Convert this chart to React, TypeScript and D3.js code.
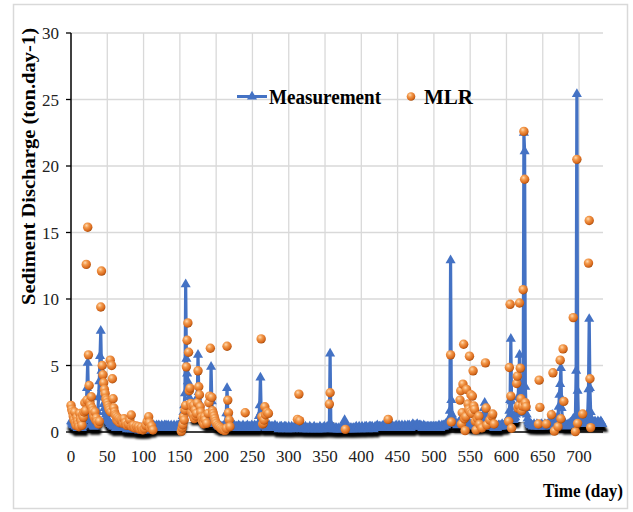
import React from "react";
import * as d3 from "d3";

// Daily measured sediment discharge (ton/day), days 0..732
const m000 = [
  0.8, 0.7, 0.6, 0.5, 0.6, 0.5, 0.4, 0.5, 0.4, 0.3,
  0.4, 0.3, 0.4, 0.5, 0.4, 0.3, 0.4, 0.5, 0.6, 0.9,
  1.3, 1.9, 3.3, 5.2, 2.7, 1.6, 1.1, 0.9, 0.7, 0.6,
  0.5, 0.4, 0.5, 0.4, 0.5, 0.6, 0.9, 1.5, 2.6, 3.8,
  5.7, 7.6, 4.6, 3.3, 2.6, 2.1, 1.8, 1.5, 1.3, 1.1,
];
const m050 = [
  1.0, 0.9, 0.8, 0.7, 0.6, 0.6, 0.5, 0.5, 0.4, 0.5,
  0.4, 0.5, 0.3, 0.4, 0.5, 0.4, 0.3, 0.4, 0.5, 0.3,
  0.4, 0.3, 0.4, 0.5, 0.3, 0.4, 0.3, 0.2, 0.4, 0.3,
  0.3, 0.2, 0.4, 0.3, 0.2, 0.3, 0.4, 0.2, 0.3, 0.2,
  0.3, 0.2, 0.3, 0.2, 0.1, 0.3, 0.2, 0.3, 0.1, 0.2,
];
const m100 = [
  0.2, 0.3, 0.1, 0.2, 0.3, 0.2, 0.3, 0.2, 0.4, 0.3,
  0.2, 0.3, 0.4, 0.3, 0.5, 0.4, 0.3, 0.4, 0.5, 0.4,
  0.3, 0.5, 0.4, 0.3, 0.4, 0.5, 0.4, 0.3, 0.4, 0.5,
  0.4, 0.5, 0.3, 0.4, 0.5, 0.4, 0.3, 0.4, 0.5, 0.4,
  0.3, 0.4, 0.5, 0.4, 0.3, 0.4, 0.5, 0.4, 0.5, 0.4,
];
const m150 = [
  0.5, 0.6, 0.7, 0.9, 1.2, 1.5, 2.0, 2.9, 11.1, 5.5,
  4.4, 3.8, 3.2, 2.6, 2.2, 1.9, 1.7, 1.5, 1.4, 1.3,
  1.2, 1.1, 1.2, 1.6, 2.6, 5.8, 3.0, 2.2, 1.7, 1.4,
  1.2, 1.1, 1.0, 0.9, 0.9, 0.8, 0.8, 0.7, 0.7, 0.6,
  0.7, 0.9, 1.6, 4.9, 2.3, 1.5, 1.1, 0.9, 0.8, 0.7,
];
const m200 = [
  0.6, 0.6, 0.5, 0.5, 0.4, 0.5, 0.4, 0.4, 0.3, 0.4,
  0.3, 0.4, 0.5, 0.7, 1.4, 3.3, 1.4, 0.9, 0.6, 0.5,
  0.4, 0.5, 0.4, 0.3, 0.4, 0.5, 0.4, 0.3, 0.4, 0.3,
  0.4, 0.5, 0.4, 0.3, 0.4, 0.3, 0.4, 0.5, 0.4, 0.3,
  0.4, 0.3, 0.4, 0.5, 0.4, 0.3, 0.4, 0.3, 0.4, 0.5,
];
const m250 = [
  0.4, 0.3, 0.4, 0.5, 0.4, 0.3, 0.4, 0.5, 0.6, 1.2,
  2.0, 4.1, 1.5, 0.9, 0.6, 0.5, 0.4, 0.5, 0.4, 0.3,
  0.4, 0.3, 0.4, 0.5, 0.4, 0.3, 0.4, 0.3, 0.4, 0.3,
  0.4, 0.5, 0.4, 0.3, 0.4, 0.3, 0.2, 0.3, 0.4, 0.3,
  0.4, 0.3, 0.2, 0.3, 0.4, 0.3, 0.4, 0.3, 0.2, 0.3,
];
const m300 = [
  0.4, 0.3, 0.2, 0.3, 0.4, 0.3, 0.2, 0.3, 0.4, 0.3,
  0.4, 0.3, 0.5, 0.4, 0.3, 0.4, 0.3, 0.2, 0.3, 0.4,
  0.3, 0.2, 0.3, 0.4, 0.3, 0.2, 0.3, 0.2, 0.3, 0.4,
  0.3, 0.2, 0.3, 0.2, 0.3, 0.4, 0.3, 0.2, 0.3, 0.2,
  0.3, 0.2, 0.3, 0.4, 0.3, 0.2, 0.3, 0.2, 0.3, 0.4,
];
const m350 = [
  0.3, 0.2, 0.3, 0.4, 0.3, 0.3, 0.5, 5.9, 0.6, 0.4,
  0.3, 0.2, 0.3, 0.2, 0.3, 0.2, 0.3, 0.2, 0.2, 0.3,
  0.2, 0.3, 0.2, 0.3, 0.2, 0.4, 0.6, 0.9, 0.5, 0.3,
  0.2, 0.3, 0.2, 0.3, 0.2, 0.3, 0.2, 0.3, 0.2, 0.3,
  0.3, 0.2, 0.3, 0.4, 0.3, 0.2, 0.3, 0.4, 0.3, 0.2,
];
const m400 = [
  0.3, 0.4, 0.3, 0.2, 0.3, 0.4, 0.3, 0.4, 0.3, 0.2,
  0.3, 0.4, 0.3, 0.4, 0.3, 0.4, 0.3, 0.2, 0.3, 0.4,
  0.3, 0.4, 0.5, 0.4, 0.3, 0.4, 0.3, 0.4, 0.3, 0.4,
  0.5, 0.4, 0.3, 0.4, 0.3, 0.4, 0.5, 0.4, 0.3, 0.4,
  0.3, 0.4, 0.5, 0.4, 0.3, 0.4, 0.3, 0.4, 0.5, 0.4,
];
const m450 = [
  0.3, 0.4, 0.5, 0.4, 0.3, 0.4, 0.5, 0.4, 0.3, 0.4,
  0.5, 0.4, 0.3, 0.4, 0.5, 0.4, 0.5, 0.4, 0.3, 0.4,
  0.5, 0.6, 0.5, 0.4, 0.5, 0.4, 0.5, 0.6, 0.5, 0.4,
  0.5, 0.4, 0.5, 0.4, 0.3, 0.4, 0.5, 0.4, 0.3, 0.4,
  0.3, 0.4, 0.3, 0.4, 0.3, 0.4, 0.3, 0.4, 0.3, 0.4,
];
const m500 = [
  0.4, 0.3, 0.4, 0.3, 0.4, 0.3, 0.4, 0.5, 0.4, 0.3,
  0.4, 0.5, 0.4, 0.5, 0.4, 0.5, 0.6, 0.5, 0.6, 0.7,
  0.8, 1.0, 1.6, 12.9, 2.4, 1.3, 1.0, 0.8, 0.7, 0.6,
  0.7, 0.6, 0.5, 0.6, 0.7, 0.6, 0.8, 0.9, 0.7, 0.6,
  0.8, 1.0, 0.8, 0.7, 0.6, 0.7, 0.8, 0.6, 0.7, 0.6,
];
const m550 = [
  0.5, 0.6, 0.5, 0.6, 0.5, 0.4, 0.5, 0.6, 0.5, 0.4,
  0.5, 0.6, 0.5, 0.4, 0.5, 0.6, 0.7, 0.9, 1.3, 1.8,
  2.2, 1.4, 0.9, 0.7, 0.6, 0.5, 0.4, 0.5, 0.4, 0.5,
  0.4, 0.5, 0.4, 0.3, 0.4, 0.5, 0.4, 0.3, 0.4, 0.5,
  0.4, 0.5, 0.4, 0.5, 0.6, 0.5, 0.4, 0.5, 0.6, 0.7,
];
const m600 = [
  0.7, 0.8, 0.9, 1.1, 1.6, 2.4, 7.0, 2.3, 1.3, 1.0,
  0.9, 1.0, 1.1, 1.3, 1.5, 1.9, 2.6, 3.8, 5.8, 2.6,
  1.8, 1.5, 1.4, 2.1, 22.5, 21.1, 3.4, 1.8, 1.3, 1.0,
  0.8, 0.7, 0.6, 0.5, 0.6, 0.5, 0.4, 0.5, 0.6, 0.5,
  0.4, 0.5, 0.6, 0.5, 0.4, 0.5, 0.4, 0.5, 0.6, 0.5,
];
const m650 = [
  0.5, 0.4, 0.5, 0.6, 0.5, 0.4, 0.5, 0.6, 0.5, 0.6,
  0.7, 0.8, 1.0, 1.3, 0.8, 0.6, 0.5, 0.6, 0.5, 0.7,
  0.9, 1.2, 1.9, 2.8, 3.6, 4.8, 1.8, 1.0, 0.8, 0.6,
  0.5, 0.6, 0.5, 0.4, 0.5, 0.6, 0.5, 0.6, 0.7, 0.6,
  0.7, 0.8, 1.0, 0.7, 0.6, 1.2, 4.6, 25.4, 3.1, 1.2,
];
const m700 = [
  0.9, 0.8, 0.7, 0.6, 0.7, 0.8, 0.7, 0.6, 0.7, 0.8,
  0.9, 1.1, 1.4, 3.2, 8.5, 3.3, 1.5, 1.0, 0.8, 0.7,
  0.6, 0.7, 0.8, 0.7, 0.6, 0.7, 0.8, 0.7, 0.6, 0.7,
  0.8, 0.7, 0.6,
];
const measurement = [
  ...m000, ...m050, ...m100, ...m150, ...m200, ...m250, ...m300,
  ...m350, ...m400, ...m450, ...m500, ...m550, ...m600, ...m650, ...m700,
];

// MLR estimates (day, value)
const mlrDays = [
  0, 1, 2, 3, 4, 5, 6, 7, 8, 9, 10, 11, 12, 13, 14, 15, 16, 17, 18, 19,
  20, 21, 22, 23, 24, 25, 26, 27, 28, 29, 30, 31, 32, 33, 34, 35, 36, 38, 39,
  41, 42, 43, 44, 45, 46, 47, 48, 49, 50, 51, 52, 53, 54, 55, 56, 57, 58, 59,
  60, 61, 62, 63, 64, 65, 66, 67, 68, 70, 72, 73, 75, 77, 79, 81, 83, 84, 86,
  88, 90, 92, 93, 95, 97, 99, 101, 103, 105, 107, 108, 109, 111, 113,
  152, 153, 154, 155, 156, 157, 158, 159, 160, 161, 162, 163, 164, 165, 166,
  167, 168, 169, 170, 171, 172, 173, 174, 175, 176, 177, 178, 179, 180, 181,
  182, 183, 184, 185, 187, 189, 190, 191, 192, 194, 195, 196, 197, 198, 199,
  200, 202, 204, 206, 208, 210, 212, 214, 215, 216, 217, 218, 219,
  240, 262, 263, 264, 265, 266, 267, 268, 270, 272,
  312, 314, 315, 356, 357, 378, 437,
  523, 524, 536, 537, 538, 539, 540, 541, 542, 543, 544, 545, 547, 548, 549,
  550, 551, 552, 553, 554, 555, 556, 557, 558, 560, 562, 563, 566, 571, 572,
  573, 577, 580, 581, 583,
  603, 604, 605, 606, 607, 614, 615, 616, 617, 618, 619, 620, 621, 622, 623,
  624, 625, 626, 627, 644, 645, 646, 655, 662, 664, 666, 671, 674, 675, 678,
  679, 692, 695, 697, 698, 705, 713, 714, 715, 716,
];
const mlrValues = [
  2.0, 1.7, 1.5, 1.2, 0.9, 1.5, 0.7, 0.5, 1.1, 0.8, 0.6, 0.4, 1.4, 1.0, 0.8, 0.5, 1.3, 1.1, 1.5, 2.2,
  1.6, 12.6, 2.4, 15.4, 5.8, 3.5, 2.3, 2.0, 2.65, 1.8, 1.6, 1.3, 1.1, 1.5, 0.9, 1.05, 0.8, 0.6, 0.8,
  9.4, 12.1, 5.0, 4.3, 3.7, 3.2, 2.9, 2.5, 2.4, 2.2, 2.0, 1.8, 1.65, 5.4, 1.5, 5.0, 4.0, 2.5, 1.8,
  1.5, 1.3, 1.2, 0.9, 1.1, 0.8, 1.0, 0.7, 0.9, 0.9, 0.65, 1.0, 0.7, 0.5, 0.6, 0.9, 1.28, 0.4, 0.5,
  0.3, 0.45, 0.3, 0.4, 0.2, 0.35, 0.15, 0.25, 0.5, 0.8, 1.15, 0.7, 0.3, 0.45, 0.15,
  0.05, 0.3, 0.55, 1.15, 0.9, 1.65, 2.0, 4.9, 6.9, 8.2, 6.0, 3.1, 3.3, 2.15, 1.5,
  1.9, 1.3, 2.0, 1.0, 1.65, 1.2, 1.4, 2.2, 4.6, 3.4, 2.8, 1.9, 1.5, 1.1, 0.8,
  1.0, 0.6, 1.15, 0.9, 0.65, 1.4, 2.2, 2.7, 6.3, 2.6, 1.6, 1.4, 1.2, 1.0, 0.8,
  0.65, 0.5, 0.4, 0.3, 0.2, 0.15, 0.1, 0.28, 6.45, 2.4, 1.45, 0.9, 0.4,
  1.45, 7.0, 1.15, 0.6, 0.65, 0.9, 1.9, 1.3, 1.5, 1.4,
  0.95, 2.85, 0.85, 2.1, 2.95, 0.2, 0.95,
  5.8, 0.75, 2.4, 3.1, 0.6, 1.45, 3.6, 6.6, 1.0, 0.1, 1.15, 3.2, 2.1, 1.7, 5.7,
  1.5, 2.8, 1.4, 2.7, 4.6, 1.95, 1.7, 0.8, 0.15, 1.0, 1.2, 0.58, 0.3, 5.2, 1.8,
  0.53, 0.9, 1.2, 1.35, 0.6,
  0.8, 4.85, 9.6, 2.7, 0.28, 3.65, 4.2, 1.8, 2.0, 9.7, 4.8, 2.5, 1.6, 1.95, 10.7,
  22.6, 19.0, 2.2, 1.9, 0.6, 3.9, 1.85, 0.6, 1.3, 4.45, 0.07, 0.4, 5.4, 1.0, 6.25,
  2.3, 8.6, 0.03, 20.5, 0.65, 1.35, 12.7, 15.9, 4.0, 0.33,
];

const xTicks = [0, 50, 100, 150, 200, 250, 300, 350, 400, 450, 500, 550, 600, 650, 700];
const yTicks = [0, 5, 10, 15, 20, 25, 30];

const seriesNames = ["Measurement", "MLR"];
const yTitle = "Sediment Discharge (ton.day-1)";
const xTitle = "Time (day)";

const W = 633;
const H = 512;
const left = 71;
const right = 603;
const top = 33;
const bottom = 432;
const BLUE = "#4472C4";
const FONT = "'Liberation Serif', 'Times New Roman', serif";

export default function App() {
  const x = d3.scaleLinear().domain([0, 733]).range([left, right]);
  const y = d3.scaleLinear().domain([0, 30]).range([bottom, top]);

  const linePath =
    d3
      .line<number>()
      .x((_, i) => x(i))
      .y((d) => y(d))(measurement) || "";
  const tri = d3.symbol().type(d3.symbolTriangle).size(44)() || "";

  const mlr = mlrDays.map((d, i) => ({ d, v: mlrValues[i] }));

  const seriesBody = (color: string) => (
    <g>
      <path d={linePath} fill="none" stroke={color} strokeWidth={3.2} strokeLinejoin="round" />
      {measurement.map((v, i) => (
        <path key={i} d={tri} transform={`translate(${x(i)},${y(v)})`} fill={color} />
      ))}
    </g>
  );

  return (
    <svg
      width={W}
      height={H}
      style={{ position: "absolute", left: 0, top: 0, background: "#fff" }}
      fontFamily={FONT}
    >
      <defs>
        <radialGradient id="dotGrad" cx="0.38" cy="0.32" r="0.7">
          <stop offset="0%" stopColor="#FFD9B0" />
          <stop offset="35%" stopColor="#F39A4C" />
          <stop offset="80%" stopColor="#D9691C" />
          <stop offset="100%" stopColor="#A04B0C" />
        </radialGradient>
        <filter id="blur" x="-5%" y="-50%" width="110%" height="200%">
          <feGaussianBlur stdDeviation="1.3" />
        </filter>
        <clipPath id="lowClip">
          <rect x={0} y={bottom - 10} width={W} height={40} />
        </clipPath>
      </defs>

      <rect x={13.5} y={4.5} width={614} height={504} fill="#fff" stroke="#d9d9d9" strokeWidth={1.5} />

      {/* gridlines */}
      {yTicks
        .filter((t) => t > 0)
        .map((t) => (
          <line key={"hy" + t} x1={left} x2={right} y1={y(t)} y2={y(t)} stroke="#d9d9d9" strokeWidth={1.3} />
        ))}
      {xTicks
        .filter((t) => t > 0)
        .map((t) => (
          <line key={"vx" + t} x1={x(t)} x2={x(t)} y1={top} y2={bottom} stroke="#d9d9d9" strokeWidth={1.3} />
        ))}

      {/* axes */}
      <line x1={left} x2={left} y1={top} y2={bottom} stroke="#000" strokeWidth={1.5} />
      {yTicks.map((t) => (
        <line key={"yt" + t} x1={left - 5} x2={left} y1={y(t)} y2={y(t)} stroke="#000" strokeWidth={1.3} />
      ))}
      <line x1={left} x2={right} y1={bottom} y2={bottom} stroke="#000" strokeWidth={1.5} />

      {yTicks.map((t) => (
        <text key={"yl" + t} x={59} y={y(t) + 6} textAnchor="end" fontSize={17} fill="#222">
          {t}
        </text>
      ))}
      {xTicks.map((t) => (
        <text key={"xl" + t} x={x(t)} y={462} textAnchor="middle" fontSize={17} fill="#222">
          {t}
        </text>
      ))}

      {/* shadow of measurement band */}
      <g clipPath="url(#lowClip)">
        <g transform="translate(1,5)" filter="url(#blur)">
          {seriesBody("#000")}
        </g>
      </g>
      {seriesBody(BLUE)}

      {/* MLR points */}
      {mlr.map((p, i) => (
        <circle key={i} cx={x(p.d)} cy={y(p.v)} r={4.7} fill="url(#dotGrad)" />
      ))}

      {/* legend */}
      <line x1={237} x2={267} y1={96.5} y2={96.5} stroke={BLUE} strokeWidth={3} />
      <path d={tri} transform="translate(252,96.5)" fill={BLUE} />
      <text x={269} y={104} fontSize={20} fontWeight="bold" fill="#000" textLength={112} lengthAdjust="spacingAndGlyphs">
        {seriesNames[0]}
      </text>
      <circle cx={411} cy={96.5} r={4.3} fill="url(#dotGrad)" />
      <text x={424} y={104} fontSize={20} fontWeight="bold" fill="#000" textLength={49} lengthAdjust="spacingAndGlyphs">
        {seriesNames[1]}
      </text>

      {/* axis titles */}
      <text
        transform="translate(35,305) rotate(-90)"
        fontSize={18}
        fontWeight="bold"
        fill="#000"
        textLength={277}
        lengthAdjust="spacingAndGlyphs"
      >
        {yTitle}
      </text>
      <text x={543} y={497} fontSize={19} fontWeight="bold" fill="#000" textLength={80} lengthAdjust="spacingAndGlyphs">
        {xTitle}
      </text>
    </svg>
  );
}
